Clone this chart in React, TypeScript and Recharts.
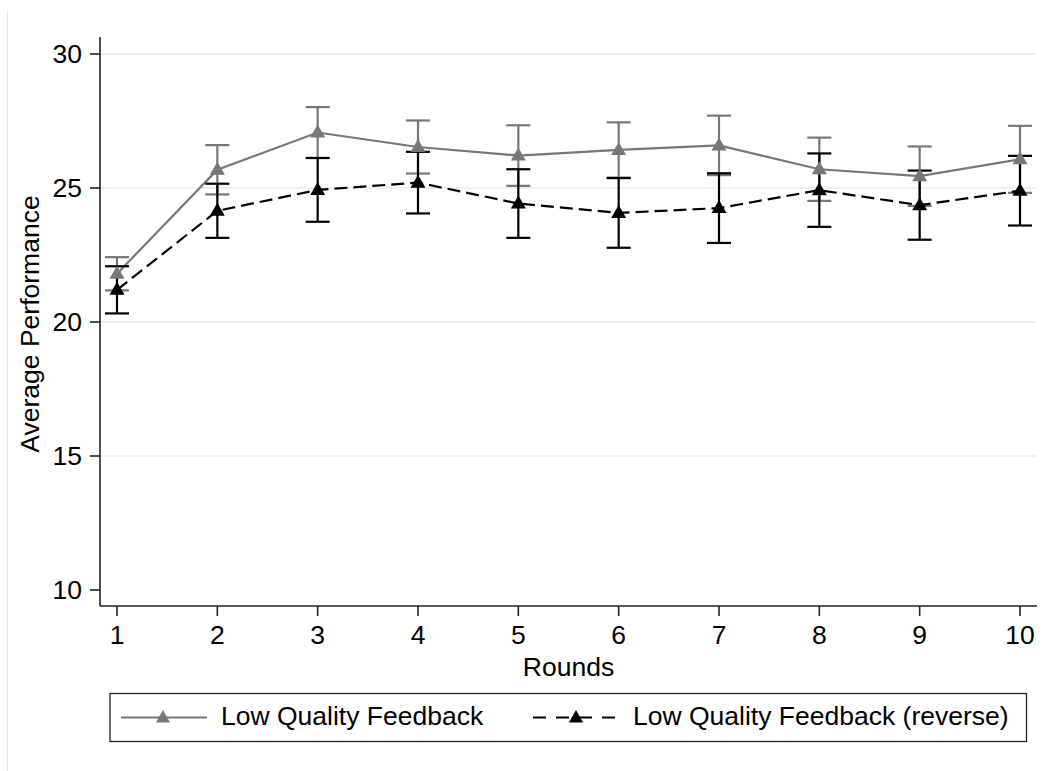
import React from 'react';
import { ComposedChart, Line, XAxis, YAxis, ErrorBar, ReferenceLine } from 'recharts';

const rounds = [1, 2, 3, 4, 5, 6, 7, 8, 9, 10];
const lowMean = [21.8, 25.68, 27.07, 26.53, 26.21, 26.42, 26.59, 25.7, 25.44, 26.07];
const lowErr = [0.62, 0.92, 0.95, 0.99, 1.13, 1.03, 1.11, 1.18, 1.11, 1.25];
const revMean = [21.2, 24.15, 24.93, 25.2, 24.42, 24.07, 24.25, 24.92, 24.36, 24.9];
const revErr = [0.88, 1.01, 1.19, 1.15, 1.28, 1.3, 1.3, 1.37, 1.29, 1.3];
const yTicks = [10, 15, 20, 25, 30];
const gridValues = [15, 20, 25, 30];
const seriesNames = ['Low Quality Feedback', 'Low Quality Feedback (reverse)'];

const data = rounds.map((r, i) => ({
  round: r,
  low: lowMean[i],
  lowE: lowErr[i],
  rev: revMean[i],
  revE: revErr[i],
}));

const FONT = '"Liberation Sans", Arial, Helvetica, sans-serif';
const FS = 26.5;
const GRAY = '#777777';
const BLACK = '#000000';

const Tri = (color: string) => (props: any) => {
  const { cx, cy, index } = props;
  if (cx == null || cy == null) return <g key={index} />;
  return (
    <polygon
      key={index}
      points={`${cx},${cy - 8} ${cx - 7.5},${cy + 5} ${cx + 7.5},${cy + 5}`}
      fill={color}
      stroke="none"
    />
  );
};

const YLabel = () => (
  <text
    x={38.5}
    y={324}
    transform="rotate(-90, 38.5, 324)"
    textAnchor="middle"
    fontFamily={FONT}
    fontSize={FS}
    fill="#000"
  >
    Average Performance
  </text>
);

const LegendBox = () => (
  <svg width={1047} height={771} style={{ position: 'absolute', left: 0, top: 0, pointerEvents: 'none' }}>
    <line x1={7.5} y1={10} x2={7.5} y2={771} stroke="#e8e8e8" strokeWidth={1} />
    <rect x={110} y={693.5} width={916.5} height={48} fill="none" stroke="#222" strokeWidth={1.3} />
    <line x1={121} y1={717.5} x2={207} y2={717.5} stroke={GRAY} strokeWidth={2} />
    <polygon points={`163,${717.5 - 7.5} 156,${717.5 + 5} 170,${717.5 + 5}`} fill={GRAY} />
    <text x={221} y={724.5} fontFamily={FONT} fontSize={FS} fill="#000">{seriesNames[0]}</text>
    <line x1={533} y1={717.5} x2={617} y2={717.5} stroke={BLACK} strokeWidth={2} strokeDasharray="13 10" />
    <polygon points={`576,${717.5 - 7.5} 569,${717.5 + 5} 583,${717.5 + 5}`} fill={BLACK} />
    <text x={633} y={724.5} fontFamily={FONT} fontSize={FS} fill="#000">{seriesNames[1]}</text>
  </svg>
);

export default function App() {
  return (
    <div style={{ position: 'absolute', left: 0, top: 0, width: 1047, height: 771, background: '#fff' }}>
      <ComposedChart
        width={1047}
        height={771}
        data={data}
        margin={{ top: 37, right: 10, bottom: 95, left: 0 }}
        style={{ fontFamily: FONT }}
      >
        {gridValues.map((g) => (
          <ReferenceLine key={g} y={g} stroke="#e2eef0" strokeWidth={1.6} ifOverflow="visible" />
        ))}
        <XAxis
          dataKey="round"
          type="number"
          domain={[1, 10]}
          ticks={rounds}
          padding={{ left: 17, right: 17 }}
          height={70}
          tickSize={10}
          tickMargin={9}
          axisLine={{ stroke: '#222', strokeWidth: 1.6 }}
          tickLine={{ stroke: '#222', strokeWidth: 1.6 }}
          tick={{ fill: '#000', fontSize: FS, fontFamily: FONT }}
          label={{ value: 'Rounds', position: 'insideBottom', offset: 0, fill: '#000', fontSize: FS, fontFamily: FONT }}
        />
        <YAxis
          type="number"
          domain={[10, 30]}
          ticks={yTicks}
          padding={{ top: 17, bottom: 16 }}
          width={100}
          tickSize={10}
          tickMargin={8}
          axisLine={{ stroke: '#222', strokeWidth: 1.6 }}
          tickLine={{ stroke: '#222', strokeWidth: 1.6 }}
          tick={{ fill: '#000', fontSize: FS, fontFamily: FONT }}
          label={<YLabel />}
        />
        <Line
          dataKey="low"
          stroke={GRAY}
          strokeWidth={2.2}
          dot={Tri(GRAY)}
          activeDot={false}
          isAnimationActive={false}
        >
          <ErrorBar dataKey="lowE" width={12} stroke={GRAY} strokeWidth={2.2} isAnimationActive={false} />
        </Line>
        <Line
          dataKey="rev"
          stroke={BLACK}
          strokeWidth={2.2}
          strokeDasharray="13 6"
          dot={Tri(BLACK)}
          activeDot={false}
          isAnimationActive={false}
        >
          <ErrorBar dataKey="revE" width={12} stroke={BLACK} strokeWidth={2.2} isAnimationActive={false} />
        </Line>
      </ComposedChart>
      <LegendBox />
    </div>
  );
}
